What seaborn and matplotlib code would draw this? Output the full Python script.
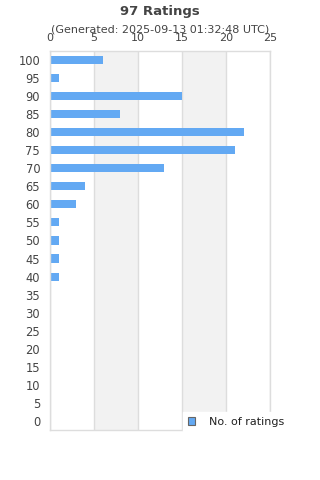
import pandas as pd
import matplotlib
matplotlib.use("Agg")
import matplotlib.pyplot as plt
import seaborn as sns
from matplotlib.patches import Patch

ratings = [100, 95, 90, 85, 80, 75, 70, 65, 60, 55, 50, 45, 40,
           35, 30, 25, 20, 15, 10, 5, 0]
counts = [6, 1, 15, 8, 22, 21, 13, 4, 3, 1, 1, 1, 1,
          0, 0, 0, 0, 0, 0, 0, 0]
x_ticks = [0, 5, 10, 15, 20, 25]

bar_color = '#63a9f3'
text_color = '#444444'
grid_color = '#dddddd'


def generate_bar_chart():
    df = pd.DataFrame({'rating': [str(r) for r in ratings], 'count': counts})
    sns.set_style("white")
    plt.rcParams['font.family'] = ['DejaVu Sans']

    fig = plt.figure(figsize=(3.2, 4.8), dpi=100)
    ax = fig.add_axes([0.156, 0.104, 0.688, 0.790])

    # alternating bands
    for a, b in [(5, 10), (15, 20)]:
        ax.axvspan(a, b, color='#f2f2f2', zorder=0, lw=0)
    for t in x_ticks:
        ax.axvline(t, color=grid_color, lw=1, zorder=0.5)

    sns.barplot(data=df, y='rating', x='count', order=[str(r) for r in ratings],
                orient='h', color=bar_color, saturation=1, width=0.45, ax=ax,
                zorder=2, edgecolor=bar_color, linewidth=0)

    ax.set_xlim(0, 25)
    ax.set_xticks(x_ticks)
    ax.xaxis.tick_top()
    ax.tick_params(axis='x', length=0, pad=6, labelsize=8, labelcolor=text_color)
    ax.tick_params(axis='y', length=0, pad=7, labelsize=8.3, labelcolor=text_color)
    ax.set_xlabel('')
    ax.set_ylabel('')
    for s in ax.spines.values():
        s.set_color(grid_color)
        s.set_linewidth(1)

    fig.text(0.5, 0.977, '97 Ratings', ha='center', va='center',
             fontsize=9.5, fontweight='bold', color=text_color)
    fig.text(0.5, 0.938, '(Generated: 2025-09-13 01:32:48 UTC)', ha='center', va='center',
             fontsize=8, color=text_color)

    handle = Patch(facecolor=bar_color, edgecolor='#666666', linewidth=0.8)
    leg = fig.legend([handle], ['No. of ratings'], loc='center left',
                     bbox_to_anchor=(0.555, 0.121), frameon=True, fontsize=8,
                     handlelength=0.7, handleheight=0.7, handletextpad=1.2,
                     borderpad=0.4, fancybox=False)
    leg.get_frame().set_edgecolor('white')
    leg.get_frame().set_facecolor('white')
    leg.get_frame().set_alpha(1)
    for t in leg.get_texts():
        t.set_color('#222222')

    fig.savefig('out.png', dpi=100)
    plt.close(fig)


if __name__ == "__main__":
    generate_bar_chart()
